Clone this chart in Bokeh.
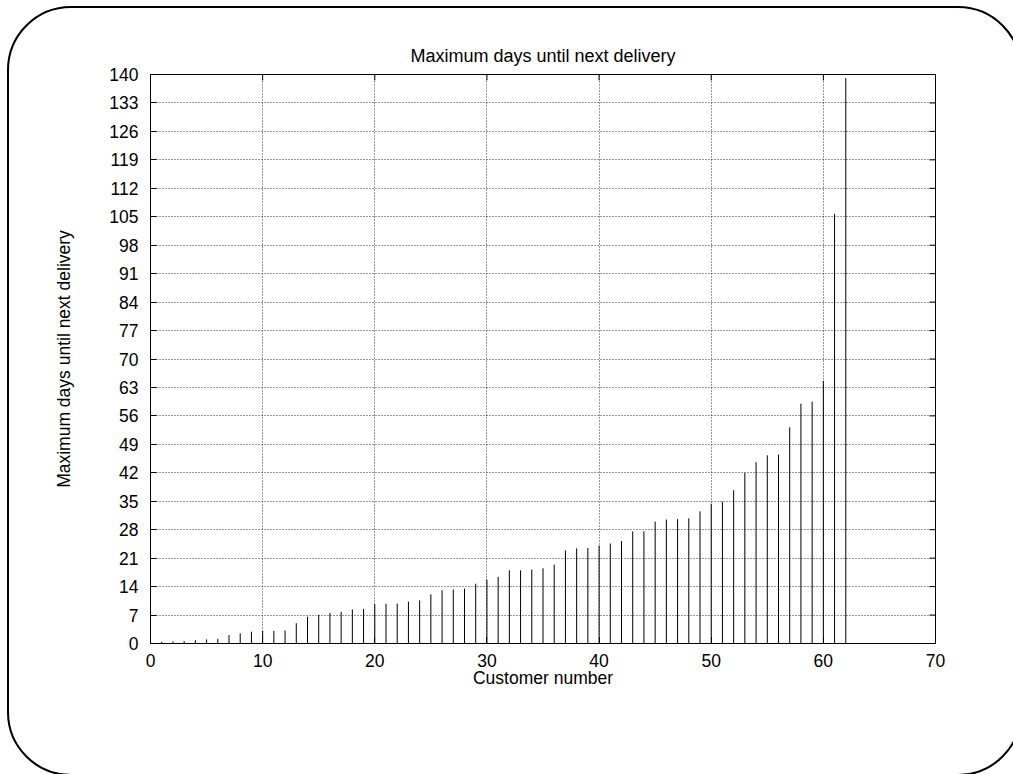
from bokeh.plotting import figure
from bokeh.models import Range1d, FixedTicker, ColumnDataSource, InlineStyleSheet
from bokeh.embed import file_html
from bokeh.resources import INLINE

# ---- data ----
customers = list(range(1, 63))
max_days = [0.4, 0.5, 0.6, 0.8, 1.0, 1.15, 2.1, 2.5, 2.9, 3.1,
            3.1, 3.2, 5.0, 6.6, 7.1, 7.5, 7.8, 8.4, 8.5, 9.7,
            9.8, 9.8, 10.3, 10.6, 12.1, 13.1, 13.3, 13.5, 14.7, 15.7,
            16.4, 18.0, 18.0, 18.2, 18.5, 19.4, 22.9, 23.4, 23.5, 24.1,
            24.6, 25.2, 27.6, 27.6, 30.0, 30.5, 30.6, 30.8, 32.5, 34.4,
            34.9, 37.7, 42.0, 44.6, 46.3, 46.5, 53.2, 59.0, 59.5, 64.6,
            105.7, 139.1]
x_ticks = [0, 10, 20, 30, 40, 50, 60, 70]
y_ticks = [0, 7, 14, 21, 28, 35, 42, 49, 56, 63, 70, 77, 84, 91, 98, 105,
           112, 119, 126, 133, 140]
title_text = "Maximum days until next delivery"
x_label = "Customer number"
y_label = "Maximum days until next delivery"

FONT = "Liberation Sans"
FS = "17.5px"
X0, X1, Y0, Y1 = 0, 70, 0, 140

frame_css = InlineStyleSheet(css="""
:host { position: relative; overflow: hidden; }
:host::after {
  content: '';
  position: absolute;
  left: 7px; top: 6px;
  width: 1011px; height: 766px;
  border: 2.5px solid black;
  border-radius: 64px;
  pointer-events: none;
}
""")

p = figure(width=1013, height=774, output_backend="svg", toolbar_location=None,
           x_range=Range1d(X0, X1), y_range=Range1d(Y0, Y1),
           min_border_left=150, min_border_right=78,
           min_border_top=74, min_border_bottom=131,
           title=title_text, stylesheets=[frame_css])

p.title.align = "center"
p.title.text_font = FONT
p.title.text_font_size = "18px"
p.title.text_font_style = "normal"
p.title.text_color = "black"
p.title.standoff = 10
p.title.padding = dict(left=0, right=0, top=0, bottom=4)

# mirrored tick marks on top and right borders (6 px long, inward)
px_per_x = 785 / (X1 - X0)
px_per_y = 569 / (Y1 - Y0)
tick_len = 6
p.segment(x0=x_ticks, y0=[Y1] * len(x_ticks), x1=x_ticks,
          y1=[Y1 - tick_len / px_per_y] * len(x_ticks), line_color="black", line_width=1)
p.segment(x0=[X1] * len(y_ticks), y0=y_ticks, x1=[X1 - tick_len / px_per_x] * len(y_ticks),
          y1=y_ticks, line_color="black", line_width=1)

src = ColumnDataSource(dict(x=customers, y=max_days, y0=[0] * len(customers)))
p.segment(x0="x", y0="y0", x1="x", y1="y", source=src, line_color="black", line_width=1)

p.outline_line_color = "black"
p.outline_line_width = 1
p.outline_line_alpha = 1

for ax in (p.xaxis[0], p.yaxis[0]):
    ax.major_tick_in = 6
    ax.major_tick_out = 0
    ax.minor_tick_line_color = None
    ax.major_label_text_font = FONT
    ax.major_label_text_font_size = FS
    ax.major_label_text_color = "black"
    ax.axis_label_text_font = FONT
    ax.axis_label_text_font_size = FS
    ax.axis_label_text_font_style = "normal"
    ax.axis_label_text_color = "black"
    ax.axis_line_color = "black"
    ax.major_tick_line_color = "black"

p.xaxis[0].ticker = FixedTicker(ticks=x_ticks)
p.yaxis[0].ticker = FixedTicker(ticks=y_ticks)
p.xaxis[0].axis_label = x_label
p.yaxis[0].axis_label = y_label
p.xaxis[0].major_label_standoff = 10
p.xaxis[0].axis_label_standoff = -2
p.yaxis[0].major_label_standoff = 12
p.yaxis[0].axis_label_standoff = 32

p.xgrid.ticker = FixedTicker(ticks=x_ticks)
p.ygrid.ticker = FixedTicker(ticks=y_ticks)
for g in (p.xgrid[0], p.ygrid[0]):
    g.grid_line_color = "black"
    g.grid_line_dash = "1 2"
    g.grid_line_alpha = 0.8
    g.grid_line_width = 1

open("out.html", "w").write(file_html(p, INLINE))
